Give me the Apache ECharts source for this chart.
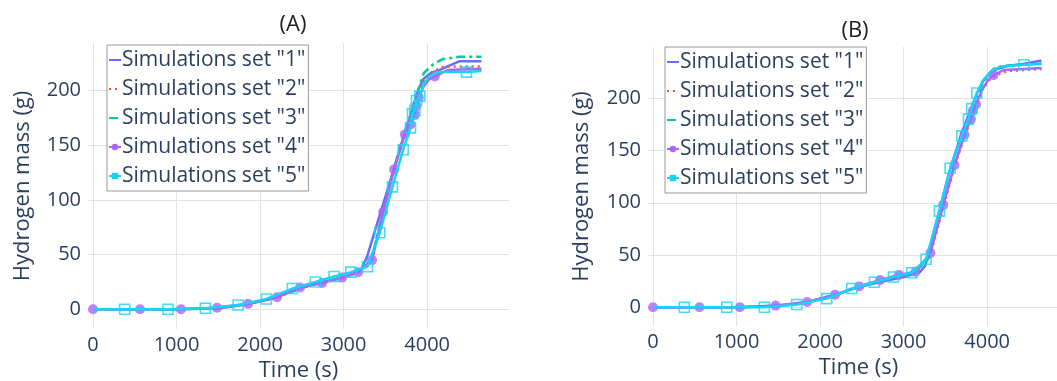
<!DOCTYPE html>
<html>
<head>
<meta charset="utf-8">
<script src="https://cdn.jsdelivr.net/npm/echarts@6/dist/echarts.min.js"></script>
<style>
  html, body { margin: 0; padding: 0; background: #fff; }
  #chart { width: 1057px; height: 381px; }
</style>
</head>
<body>
<div id="chart"></div>
<script>
// ---- Panel (A): hydrogen mass vs time ----
const tA1 = [0, 1000, 1500, 1800, 2100, 2400, 2700, 3000, 3200, 3280, 3360, 3440, 3520, 3600, 3680, 3760, 3840, 3900, 3960, 4040, 4150, 4390, 4650];
const mA1 = [0, 0, 1, 4, 9, 18, 24, 29, 35, 48, 68, 88, 108, 128, 148, 168, 188, 202, 211, 216, 219, 227, 227];
const tA2 = [0, 1000, 1500, 1850, 2200, 2480, 2740, 2980, 3180, 3340, 3470, 3600, 3730, 3800, 3870, 3920, 3980, 4060, 4200, 4650];
const mA2 = [0, 0, 1, 5, 11, 19, 25, 29, 34, 46, 88, 128, 160, 172, 190, 202, 211, 217, 222, 222];
const tA3 = [0, 1000, 1500, 1850, 2200, 2480, 2740, 2980, 3180, 3330, 3460, 3590, 3720, 3800, 3860, 3910, 3960, 4070, 4190, 4390, 4650];
const mA3 = [0, 0, 1, 5, 11, 19, 25, 29, 34, 44, 86, 126, 160, 178, 192, 205, 216, 224, 229, 231, 231];
const tA4 = [0, 563, 1054, 1485, 1856, 2203, 2479, 2743, 2982, 3174, 3341, 3473, 3605, 3733, 3801, 3853, 3872, 3900, 3950, 4020, 4092, 4250, 4650];
const mA4 = [0, 0, 0, 1.5, 5, 11, 20, 24, 29, 34, 45, 89, 128, 160, 169, 178, 186, 194, 203, 210, 213, 219, 220];
const tA4marks = [0, 563, 1054, 1485, 1856, 2203, 2479, 2743, 2982, 3174, 3341, 3473, 3605, 3733, 3801, 3853, 3872, 3900, 4092];
const mA4marks = [0, 0, 0, 1.5, 5, 11, 20, 24, 29, 34, 45, 89, 128, 160, 169, 178, 186, 194, 213];
const tA5 = [0, 379, 898, 1345, 1737, 2076, 2387, 2663, 2886, 3086, 3285, 3433, 3585, 3713, 3801, 3825, 3852, 3872, 3912, 3960, 4030, 4120, 4471, 4650];
const mA5 = [0, 0, 0, 1, 4, 9.5, 19, 25, 30, 34, 39, 70, 112, 146, 166, 179, 182, 191, 195, 206, 213, 217, 217, 218];
const tA5marks = [379, 898, 1345, 1737, 2076, 2387, 2663, 2886, 3086, 3285, 3433, 3585, 3713, 3801, 3825, 3852, 3872, 3912, 4471];
const mA5marks = [0, 0, 1, 4, 9.5, 19, 25, 30, 34, 39, 70, 112, 146, 166, 179, 182, 191, 195, 217];

// ---- Panel (B) ----
const tB1 = [0, 1000, 1500, 1800, 2100, 2400, 2700, 3000, 3200, 3260, 3400, 3550, 3700, 3800, 3880, 3950, 4030, 4120, 4250, 4450, 4650];
const mB1 = [0, 0, 1, 4, 9, 18, 24, 29, 34, 40, 84, 130, 168, 188, 205, 216, 224, 228, 231, 233, 236];
const tB2 = [0, 1000, 1500, 1850, 2180, 2470, 2720, 2950, 3150, 3320, 3480, 3610, 3730, 3810, 3870, 3940, 4020, 4100, 4250, 4650];
const mB2 = [0, 0, 1.5, 5, 12, 20, 26, 31, 34, 50, 97, 135, 163, 180, 194, 208, 217, 222, 226, 228];
const tB3 = [0, 1000, 1500, 1850, 2180, 2470, 2720, 2950, 3150, 3300, 3460, 3600, 3720, 3800, 3870, 3940, 4010, 4090, 4200, 4650];
const mB3 = [0, 0, 1.5, 5, 12, 20, 26, 31, 34, 47, 94, 134, 163, 182, 198, 213, 222, 229, 231, 233];
const tB4 = [0, 556, 1040, 1468, 1845, 2179, 2468, 2718, 2944, 3143, 3321, 3475, 3609, 3729, 3805, 3830, 3868, 3940, 4010, 4075, 4200, 4650];
const mB4 = [0, 0, 0, 1.6, 5, 12, 20, 26, 31, 34, 52, 98, 136, 165, 180, 188, 194, 208, 217, 222, 227, 229];
const tB4marks = [0, 556, 1040, 1468, 1845, 2179, 2468, 2718, 2944, 3143, 3321, 3475, 3609, 3729, 3805, 3830, 3868, 4075];
const mB4marks = [0, 0, 0, 1.6, 5, 12, 20, 26, 31, 34, 52, 98, 136, 165, 180, 188, 194, 222];
const tB5 = [0, 375, 883, 1333, 1721, 2080, 2380, 2651, 2878, 3098, 3269, 3429, 3557, 3697, 3776, 3816, 3876, 3950, 4050, 4150, 4440, 4650];
const mB5 = [0, 0, 0, 0, 2.6, 8.3, 18, 24, 29, 33, 46, 92, 133, 164, 180, 190, 205, 217, 226, 230, 232, 233];
const tB5marks = [375, 883, 1333, 1721, 2080, 2380, 2651, 2878, 3098, 3269, 3429, 3557, 3697, 3776, 3816, 3876, 4440];
const mB5marks = [0, 0, 0, 2.6, 8.3, 18, 24, 29, 33, 46, 92, 133, 164, 180, 190, 205, 232];

const setNames = ['Simulations set "1"', 'Simulations set "2"', 'Simulations set "3"', 'Simulations set "4"', 'Simulations set "5"'];
const panelTitles = ['(A)', '(B)'];
const xTicks = [0, 1000, 2000, 3000, 4000];
const yTicks = [0, 50, 100, 150, 200];

const FONT = '"Open Sans", "Noto Sans", sans-serif';
const INK = '#2a3f5f';
const GRID = '#e3e3e3';
const COLORS = ['#636efa', '#ef553b', '#00cc96', '#ab63fa', '#19d3f3'];
const DASHES = ['solid', [2, 4], [9, 4, 3, 4], 'solid', 'solid'];

const zip = (t, m) => t.map((v, i) => [v, m[i]]);

const panels = [
  { curves: [[tA1, mA1], [tA2, mA2], [tA3, mA3], [tA4, mA4], [tA5, mA5]],
    marks4: [tA4marks, mA4marks], marks5: [tA5marks, mA5marks] },
  { curves: [[tB1, mB1], [tB2, mB2], [tB3, mB3], [tB4, mB4], [tB5, mB5]],
    marks4: [tB4marks, mB4marks], marks5: [tB5marks, mB5marks] }
];

// panel geometry (fixed plot boxes; the right panel runs slightly past the canvas edge)
const grids = [
  { left: 88, top: 43, width: 421, height: 286, outerBoundsMode: 'none', containLabel: false },
  { left: 648, top: 47, width: 421, height: 279, outerBoundsMode: 'none', containLabel: false }
];
const yRanges = [[-18, 243.6], [-17.9, 249]];

function xAxisFor(i) {
  return {
    type: 'value', gridIndex: i, min: -60, max: 4980,
    name: 'Time (s)', nameLocation: 'middle', nameGap: i === 0 ? 28 : 30,
    nameTextStyle: { fontFamily: FONT, fontSize: 22, color: INK },
    axisLine: { show: false },
    axisTick: { show: false, customValues: xTicks },
    axisLabel: { customValues: xTicks, formatter: v => String(v), fontFamily: FONT, fontSize: 20, color: INK, margin: 6 },
    splitLine: { show: true, lineStyle: { color: GRID, width: 1 } }
  };
}
function yAxisFor(i) {
  return {
    type: 'value', gridIndex: i, min: yRanges[i][0], max: yRanges[i][1],
    name: 'Hydrogen mass (g)', nameLocation: 'middle', nameGap: i === 0 ? 54 : 55,
    nameTextStyle: { fontFamily: FONT, fontSize: 22, color: INK },
    axisLine: { show: false },
    axisTick: { show: false, customValues: yTicks },
    axisLabel: { customValues: yTicks, formatter: v => String(v), fontFamily: FONT, fontSize: 20, color: INK, margin: 7 },
    splitLine: { show: true, lineStyle: { color: GRID, width: 1 } }
  };
}

const series = [];
panels.forEach((p, pi) => {
  p.curves.forEach((c, si) => {
    series.push({
      type: 'line', name: setNames[si], xAxisIndex: pi, yAxisIndex: pi,
      data: zip(c[0], c[1]),
      showSymbol: false,
      symbol: si === 3 ? 'circle' : (si === 4 ? 'rect' : 'none'),
      symbolSize: 8,
      lineStyle: { color: COLORS[si], width: 2.5, type: DASHES[si] },
      itemStyle: { color: COLORS[si] },
      emphasis: { disabled: true },
      z: 2 + si * 2
    });
    if (si === 3) {
      series.push({
        type: 'scatter', name: setNames[3], xAxisIndex: pi, yAxisIndex: pi,
        data: zip(p.marks4[0], p.marks4[1]),
        symbol: 'circle', symbolSize: 10,
        itemStyle: { color: COLORS[3] },
        emphasis: { disabled: true }, z: 9
      });
    }
    if (si === 4) {
      series.push({
        type: 'scatter', name: setNames[4], xAxisIndex: pi, yAxisIndex: pi,
        data: zip(p.marks5[0], p.marks5[1]),
        symbol: 'rect', symbolSize: 10,
        itemStyle: { color: 'rgba(255,255,255,0)', borderColor: COLORS[4], borderWidth: 1.6 },
        emphasis: { disabled: true }, z: 11
      });
    }
  });
});

// legend entries: plain line keys for the first three sets, line + marker for the others
const legendData = setNames.map((n, i) => (i < 3 ? { name: n, itemStyle: { opacity: 0 } } : { name: n }));

function legendFor(left, top) {
  return {
    data: legendData, left: left, top: top, orient: 'vertical',
    itemGap: 5, itemWidth: 12, itemHeight: 8,
    padding: [3, 3, 3, 1],
    borderColor: '#999', borderWidth: 1, backgroundColor: '#fff',
    selectedMode: false,
    textStyle: { fontFamily: FONT, fontSize: 21, color: INK, lineHeight: 24, padding: [0, 0, 0, -4] }
  };
}

const chart = echarts.init(document.getElementById('chart'), null, { renderer: 'canvas' });
chart.setOption({
  animation: false,
  backgroundColor: '#fff',
  grid: grids,
  xAxis: [xAxisFor(0), xAxisFor(1)],
  yAxis: [yAxisFor(0), yAxisFor(1)],
  legend: [legendFor(107, 45), legendFor(665, 47)],
  graphic: [
    { type: 'text', x: 293, y: 25, style: { text: panelTitles[0], font: '22px ' + FONT, fill: '#222', textAlign: 'center', textVerticalAlign: 'middle' } },
    { type: 'text', x: 855, y: 31, style: { text: panelTitles[1], font: '22px ' + FONT, fill: '#222', textAlign: 'center', textVerticalAlign: 'middle' } }
  ],
  series: series
});
</script>
</body>
</html>
